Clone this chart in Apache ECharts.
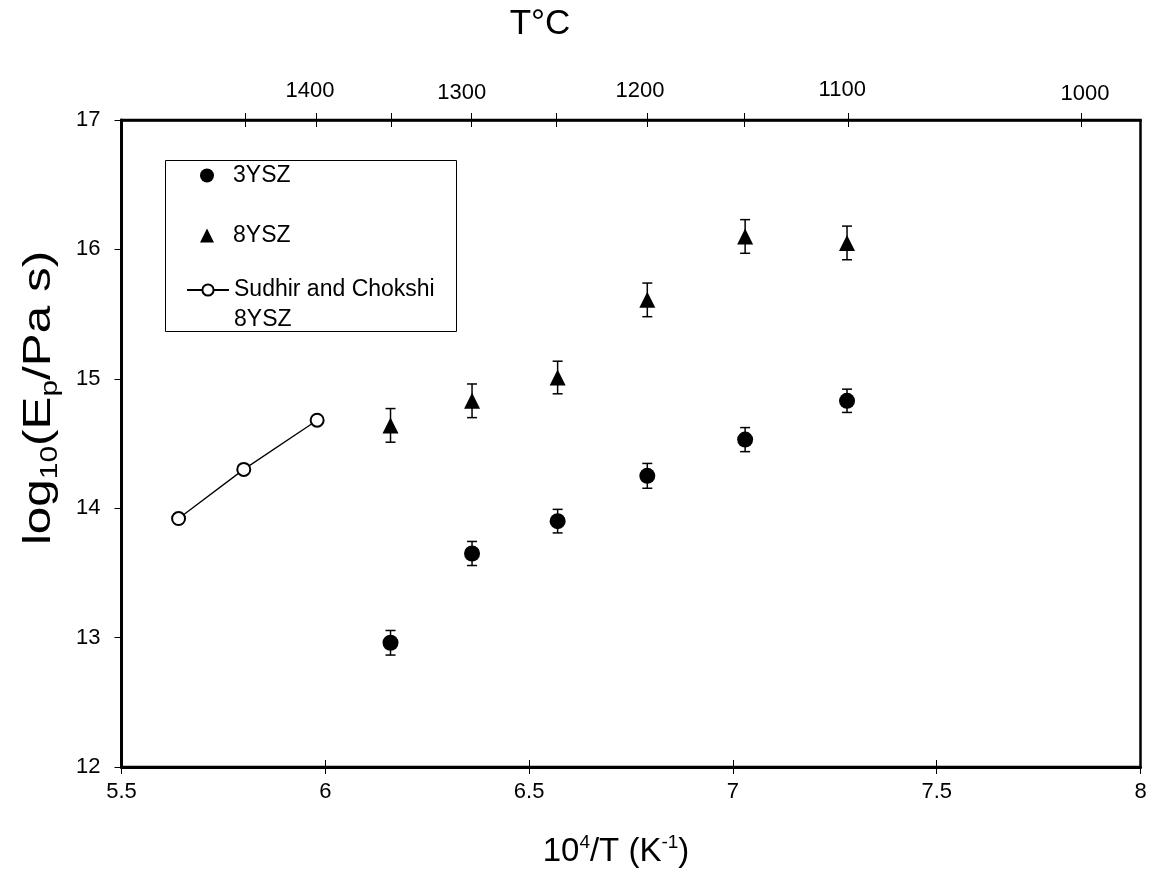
<!DOCTYPE html>
<html><head><meta charset="utf-8">
<script src="https://cdn.jsdelivr.net/npm/echarts@6/dist/echarts.min.js"></script>
<style>html,body{margin:0;padding:0;background:#fff}#c{width:1153px;height:876px}</style>
</head><body><div id="c"></div>
<script>
// ---- data ----
const invT      = [6.16, 6.36, 6.57, 6.79, 7.03, 7.28];        // 10^4/T (K^-1)
const ysz3      = [12.96, 13.65, 13.90, 14.25, 14.53, 14.83];  // log10(Ep/Pa s)
const ysz3Err   = [0.095, 0.093, 0.091, 0.096, 0.093, 0.090];
const ysz8      = [14.64, 14.83, 15.01, 15.61, 16.10, 16.05];
const ysz8Err   = [0.13, 0.13, 0.126, 0.13, 0.13, 0.13];
const sudhirInvT = [5.64, 5.80, 5.98];
const sudhirY    = [13.92, 14.30, 14.68];
// top temperature axis (T in °C) placed at 10^4/T
const tempLabels   = ['1400', '1300', '1200', '1100', '1000'];
const tempLabelPos = [5.977, 6.357, 6.789, 7.283, 7.855];
const tempTickPos  = [5.804, 5.977, 6.161, 6.357, 6.566, 6.789, 7.027, 7.283, 7.855];

const FONT = '"Liberation Sans", Arial, sans-serif';
const chart = echarts.init(document.getElementById('c'), null, {renderer: 'canvas'});

function errBarSeries(vals, errs) {
  return {
    type: 'custom',
    silent: true,
    z: 1,
    renderItem(params, api) {
      const x = api.value(0), lo = api.value(1), hi = api.value(2);
      const pHi = api.coord([x, hi]), pLo = api.coord([x, lo]);
      const hw = 5;
      const st = {stroke: '#000', lineWidth: 1.5};
      return {type: 'group', children: [
        {type: 'line', shape: {x1: pHi[0], y1: pHi[1], x2: pLo[0], y2: pLo[1]}, style: st},
        {type: 'line', shape: {x1: pHi[0]-hw, y1: pHi[1], x2: pHi[0]+hw, y2: pHi[1]}, style: st},
        {type: 'line', shape: {x1: pLo[0]-hw, y1: pLo[1], x2: pLo[0]+hw, y2: pLo[1]}, style: st}
      ]};
    },
    encode: {x: 0, y: [1, 2]},
    data: invT.map((x, i) => [x, vals[i] - errs[i], vals[i] + errs[i]])
  };
}

const LF = 22;
function tr(p) { return {fontSize: LF, fontFamily: FONT, color: '#000', lineHeight: 22, padding: p}; }
const topRich = {
  t0: tr([0, 12, 8, 0]),
  t1: tr([0, 18, 4, 0]),
  t2: tr([0, 14, 8, 0]),
  t3: tr([0, 12, 10, 0]),
  t4: tr([0, 0, 2, 7])
};

const legRich = {
  sp: {width: 14},
  t: {fontSize: 23, fontFamily: FONT, color: '#000', lineHeight: 26}
};
const legendSmall = {
  orient: 'vertical', left: 200, padding: 0, itemWidth: 14, itemHeight: 14, itemGap: 5,
  selectedMode: false,
  formatter: n => '{sp|}{t|' + n + '}',
  textStyle: {fontSize: 23, fontFamily: FONT, color: '#000', rich: legRich}
};

chart.setOption({
  animation: false,
  backgroundColor: '#fff',
  grid: {left: 121.5, right: 12.5, top: 120, bottom: 109, show: true, borderColor: '#000', borderWidth: 2.5},
  graphic: [
    {type: 'text', x: 540, y: 24, style: {text: 'T°C', fontSize: 35, fontFamily: FONT, fill: '#000', align: 'center', verticalAlign: 'middle'}},
    {type: 'text', x: 616, y: 852,
      style: {text: '10{sup|4}/T (K{sup|-1})', fontSize: 33, fontFamily: FONT, fill: '#000',
        align: 'center', verticalAlign: 'middle', lineHeight: 38,
        rich: {sup: {fontSize: 19, fontFamily: FONT, fill: '#000', verticalAlign: 'top', lineHeight: 20}}}},
    {type: 'text', x: 40, y: 398, rotation: Math.PI / 2, scaleX: 1.3,
      style: {text: 'log{sub|10}(E{sub|p}/Pa s)', fontSize: 38, fontFamily: FONT, fill: '#000',
        align: 'center', verticalAlign: 'middle', lineHeight: 44,
        rich: {sub: {fontSize: 23, fontFamily: FONT, fill: '#000', verticalAlign: 'bottom', lineHeight: 23}}}},
    {type: 'rect', shape: {x: 165.5, y: 160.5, width: 291, height: 171}, style: {fill: 'none', stroke: '#000', lineWidth: 1}, z: 5}
  ],
  legend: [
    Object.assign({}, legendSmall, {top: 164, data: [{name: '3YSZ', icon: 'circle'}]}),
    Object.assign({}, legendSmall, {top: 224, data: [{name: '8YSZ', icon: 'triangle'}]}),
    {
      orient: 'vertical', left: 186, top: 245, padding: 0, itemWidth: 42, itemHeight: 14,
      selectedMode: false,
      data: ['Sudhir and Chokshi'],
      formatter: n => '\n' + n + '\n8YSZ',
      textStyle: {fontSize: 23, fontFamily: FONT, color: '#000', lineHeight: 30}
    }
  ],
  xAxis: [
    {
      type: 'value', position: 'bottom', min: 5.5, max: 8, interval: 0.5,
      axisLine: {lineStyle: {color: '#000', width: 3}},
      axisTick: {show: true, length: 7, lineStyle: {color: '#000', width: 1}},
      axisLabel: {fontSize: LF, fontFamily: FONT, color: '#000', margin: 14},
      splitLine: {show: false}
    },
    {
      type: 'value', position: 'bottom', min: 5.5, max: 8, interval: 0.5,
      axisLine: {show: false},
      axisTick: {show: true, inside: true, length: 7, lineStyle: {color: '#000', width: 1}},
      axisLabel: {show: false}, splitLine: {show: false}
    },
    {
      type: 'value', position: 'top', min: 5.5, max: 8,
      axisLine: {lineStyle: {color: '#000', width: 2.5}},
      axisTick: {show: true, length: 7, customValues: tempTickPos, lineStyle: {color: '#000', width: 1}},
      axisLabel: {
        show: true, customValues: tempLabelPos, margin: 14,
        formatter: function (v) {
          let k = -1;
          tempLabelPos.forEach((p, i) => { if (Math.abs(p - v) < 1e-6) k = i; });
          return k < 0 ? '' : '{t' + k + '|' + tempLabels[k] + '}';
        },
        rich: topRich
      },
      splitLine: {show: false}
    },
    {
      type: 'value', position: 'top', min: 5.5, max: 8,
      axisLine: {show: false},
      axisTick: {show: true, inside: true, length: 7, customValues: tempTickPos, lineStyle: {color: '#000', width: 1}},
      axisLabel: {show: false}, splitLine: {show: false}
    }
  ],
  yAxis: [{
    type: 'value', min: 12, max: 17, interval: 1,
    axisLine: {show: true, lineStyle: {color: '#000', width: 3}},
    axisTick: {show: true, length: 7, lineStyle: {color: '#000', width: 1}},
    axisLabel: {fontSize: LF, fontFamily: FONT, color: '#000', margin: 21},
    splitLine: {show: false}
  }],
  series: [
    errBarSeries(ysz3, ysz3Err),
    errBarSeries(ysz8, ysz8Err),
    {
      name: '3YSZ', type: 'scatter', symbol: 'circle', symbolSize: 16, z: 3,
      itemStyle: {color: '#000', opacity: 1},
      data: invT.map((x, i) => [x, ysz3[i]])
    },
    {
      name: '8YSZ', type: 'scatter', symbol: 'triangle', symbolSize: 16, z: 3,
      itemStyle: {color: '#000', opacity: 1},
      data: invT.map((x, i) => [x, ysz8[i]])
    },
    {
      name: 'Sudhir and Chokshi', type: 'line', symbol: 'emptyCircle', symbolSize: 13, z: 3,
      lineStyle: {color: '#000', width: 1.3},
      itemStyle: {color: '#000', borderColor: '#000', borderWidth: 1.3},
      data: sudhirInvT.map((x, i) => [x, sudhirY[i]])
    }
  ]
});
</script>
</body></html>
